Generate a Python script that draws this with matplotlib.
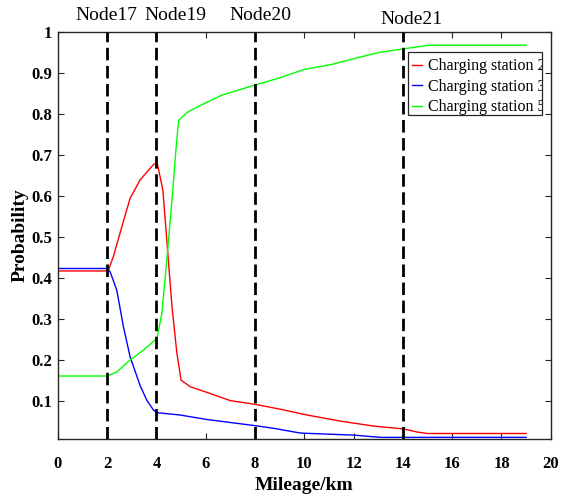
import matplotlib
matplotlib.use("Agg")
import matplotlib.pyplot as plt
from matplotlib.patches import Rectangle

# ---- data ----
red_x = [0, 2.0, 2.05, 2.25, 2.52, 2.93, 3.34, 3.74, 3.91, 4.04, 4.26, 4.42, 4.63, 4.83, 5.0,
         5.37, 6.05, 7.0, 8.01, 9.03, 10.11, 11.47, 12.82, 14.04, 14.58, 14.99, 19.0]
red_y = [0.417, 0.417, 0.419, 0.452, 0.509, 0.594, 0.639, 0.667, 0.678, 0.677, 0.614, 0.492, 0.330,
         0.216, 0.151, 0.135, 0.121, 0.101, 0.092, 0.080, 0.066, 0.051, 0.039, 0.032, 0.0245, 0.021, 0.021]

blue_x = [0, 2.0, 2.12, 2.39, 2.66, 2.93, 3.34, 3.61, 3.88, 4.04, 4.96, 6.05, 8.01, 8.76, 9.84,
          12.0, 13.1, 19.0]
blue_y = [0.423, 0.423, 0.415, 0.370, 0.281, 0.208, 0.137, 0.102, 0.078, 0.0715, 0.066, 0.055,
          0.040, 0.0335, 0.022, 0.017, 0.0115, 0.0115]

green_x = [0, 2.0, 2.39, 2.93, 3.47, 4.02, 4.22, 4.42, 4.63, 4.80, 4.90, 5.26, 5.8, 6.64, 8.0,
           8.92, 10.0, 11.1, 12.06, 13.0, 14.0, 15.07, 19.0]
green_y = [0.161, 0.161, 0.171, 0.200, 0.224, 0.253, 0.314, 0.444, 0.590, 0.720, 0.784, 0.804,
           0.821, 0.845, 0.870, 0.886, 0.908, 0.920, 0.935, 0.949, 0.958, 0.967, 0.967]

node_x = [2, 4, 8, 14]
node_labels = ["Node17", "Node19", "Node20", "Node21"]
legend_labels = ["Charging station 2", "Charging station 3", "Charging station 5"]
x_ticks = list(range(0, 21, 2))
y_ticks = [0.1, 0.2, 0.3, 0.4, 0.5, 0.6, 0.7, 0.8, 0.9, 1]
y_ticklabels = ["0.1", "0.2", "0.3", "0.4", "0.5", "0.6", "0.7", "0.8", "0.9", "1"]

plt.rcParams['font.family'] = ['Liberation Serif', 'DejaVu Serif']

W, H = 567, 495
fig = plt.figure(figsize=(W / 100, H / 100), dpi=100)
ax = fig.add_axes([0.1021, 0.1131, 0.8692, 0.8229])

ax.plot(red_x, red_y, color=(1, 0, 0), lw=1.0, label=legend_labels[0])
ax.plot(blue_x, blue_y, color=(0, 0, 1), lw=1.0, label=legend_labels[1])
ax.plot(green_x, green_y, color=(0, 1, 0), lw=1.0, label=legend_labels[2])

for nx in node_x:
    ax.axvline(nx, color='black', lw=2.0, linestyle=(0, (4.5, 2)), zorder=3)

ax.set_xlim(0, 20)
ax.set_ylim(0.0075, 1)
ax.set_xticks(x_ticks)
ax.set_xticklabels([str(t) for t in x_ticks], fontweight='bold', fontsize=12)
ax.set_yticks(y_ticks)
ax.set_yticklabels(y_ticklabels, fontweight='bold', fontsize=12)
ax.tick_params(axis='x', direction='in', length=4, width=0.8, top=True, pad=12, color='#262626')
ax.tick_params(axis='y', direction='in', length=4, width=0.8, right=True, pad=4, color='#262626')
for s in ax.spines.values():
    s.set_linewidth(1.0)
    s.set_color('#262626')

ax.set_xlabel("Mileage/km", fontweight='bold', fontsize=14, labelpad=4)
ax.set_ylabel("Probability", fontweight='bold', fontsize=14, labelpad=2)

# node labels above the axes
label_pos = [(106.5, 16), (175, 16), (260, 16), (411, 19)]
for (px, py), lab in zip(label_pos, node_labels):
    fig.text(px / W, 1 - py / H, lab, fontsize=14, ha='center', va='center')

# legend box (text overflows / is clipped by the box as in the reference)
bx0, bx1, by0, by1 = 408, 541.7, 52.3, 115
rect = Rectangle((bx0 / W, 1 - by1 / H), (bx1 - bx0) / W, (by1 - by0) / H,
                 transform=fig.transFigure, facecolor='white', edgecolor='#262626',
                 lw=0.9, zorder=4)
ax.add_patch(rect)
rect.set_clip_on(False)

leg = ax.legend(loc='upper left', bbox_to_anchor=(412 / W, 1 - 58.5 / H),
                bbox_transform=fig.transFigure, fontsize=11.5, frameon=False,
                handlelength=0.6, handletextpad=0.4, borderpad=0, labelspacing=0.27,
                borderaxespad=0)
leg.set_zorder(6)
for t in leg.get_texts():
    t.set_clip_on(True)
    t.set_clip_path(rect)

fig.savefig("out.png", dpi=100)
